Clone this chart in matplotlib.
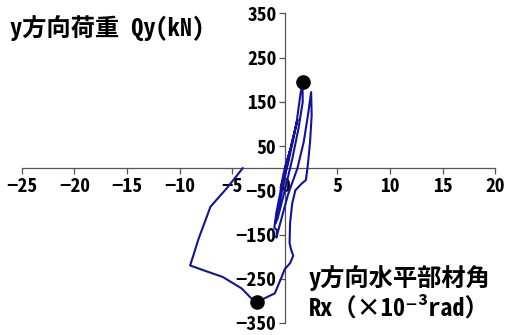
import matplotlib
matplotlib.use("Agg")
import matplotlib.pyplot as plt

plt.rcParams['font.family'] = ['Noto Sans Mono CJK JP', 'Noto Sans CJK JP', 'DejaVu Sans']

# Hysteresis path: drift angle Rx (x10^-3 rad) and load Qy (kN)
rx = [0.0, 0.5, 0.3, -0.1, -0.4, -0.2, 0.2,
      0.8, 1.2, 1.0, 0.5, 0.0, -0.6, -0.9, -0.7, 0.0, 0.7, 1.3, 1.7, 1.68,
      1.5, 1.1, 0.8, 0.3, -0.3, -0.8, -1.0, -0.75, -0.8, -0.5, 0.3, 1.2,
      1.8, 2.2, 2.5, 2.55, 2.4, 2.2, 2.0, 1.6, 1.0, 0.7, 0.5, 0.45, 0.6,
      0.8, 0.5, 0.0, -0.3, -0.95, -1.9, -2.63, -3.2, -4.1, -5.9, -7.6,
      -9.0, -8.7, -8.2, -7.06, -5.5, -4.0]
qy = [0, 40, 25, -10, -45, -30, 10,
      70, 110, 90, 40, -20, -90, -125, -115, -50, 20, 90, 150, 194,
      170, 100, 65, 10, -40, -100, -135, -140, -157, -130, -60, 0,
      60, 120, 172, 120, 60, 10, -27, -35, -50, -80, -124, -169, -185,
      -198, -215, -228, -246, -283, -294, -303, -294, -272, -246, -232,
      -220, -198, -160, -87, -45, 0]

peak_x = [1.68, -2.63]
peak_y = [194, -303]

xticks = [-25, -20, -15, -10, -5, 0, 5, 10, 15, 20]
yticks = [-350, -250, -150, -50, 50, 150, 250, 350]

fig = plt.figure(figsize=(5.06, 3.35), dpi=100)
ax = fig.add_axes([0.0429, 0.036, 0.9360, 0.924])

ax.plot(rx, qy, color='#12129E', lw=1.5, zorder=3)
ax.plot(peak_x, peak_y, 'o', color='black', ms=9.5, zorder=4, linestyle='none')

ax.set_xlim(-25, 20)
ax.set_ylim(-350, 350)
ax.set_xticks(xticks)
ax.set_yticks(yticks)

for s in ['top', 'right']:
    ax.spines[s].set_visible(False)
ax.spines['left'].set_position(('data', 0))
ax.spines['bottom'].set_position(('data', 0))
for s in ['left', 'bottom']:
    ax.spines[s].set_color('#555555')
    ax.spines[s].set_linewidth(0.9)

ax.tick_params(axis='both', direction='out', length=4, width=0.9, color='#555555',
               labelsize=14, pad=2)
for lab in ax.get_xticklabels() + ax.get_yticklabels():
    lab.set_fontweight('bold')

fig.text(0.02, 0.916, 'y方向荷重 Qy(kN)', fontsize=17.5, fontweight='bold', va='center', ha='left')
fig.text(0.61, 0.170, 'y方向水平部材角', fontsize=17.5, fontweight='bold', va='center', ha='left')
fig.text(0.61, 0.081, 'Rx（×10⁻³rad）', fontsize=17.5, fontweight='bold', va='center', ha='left')

fig.savefig('out.png', dpi=100)
